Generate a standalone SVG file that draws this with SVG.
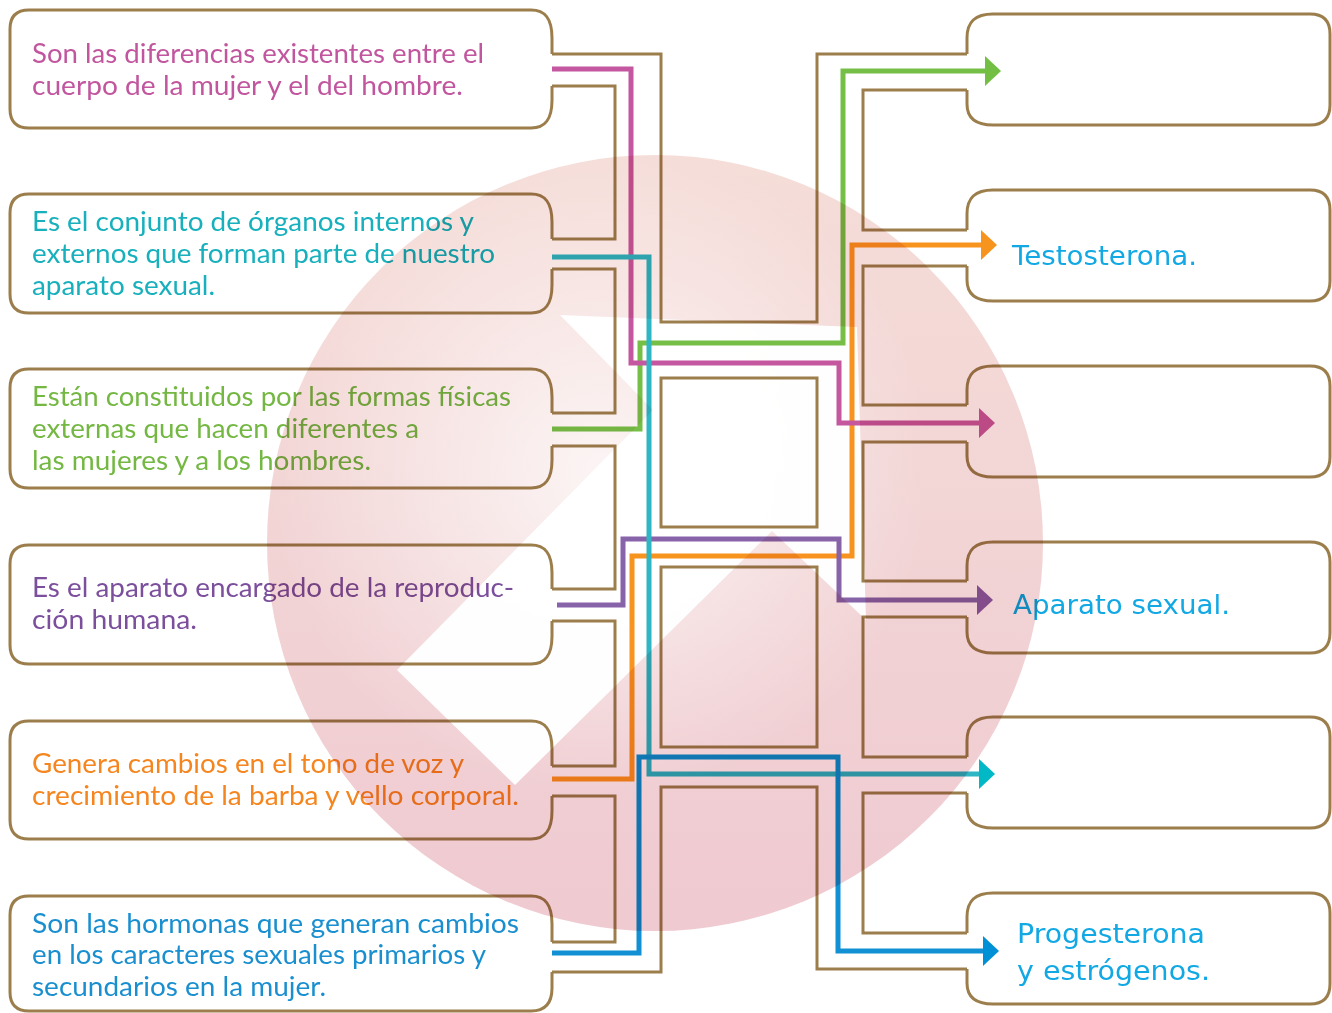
<svg xmlns="http://www.w3.org/2000/svg" width="1332" height="1013" viewBox="0 0 1332 1013">
<defs>
<style>
.box{fill:none;stroke:#9b7e4c;stroke-width:3;stroke-linejoin:round}
.chan{fill:none;stroke:#9b7e4c;stroke-width:3;stroke-linejoin:miter}
.lt{font-family:Lato,"Open Sans","Noto Sans",sans-serif;font-size:27px}
.rt{font-family:"DejaVu Sans","Noto Sans",sans-serif;font-size:26px;fill:#12a8e4}
.ln{fill:none;stroke-width:5;stroke-linejoin:miter}
.fg{mix-blend-mode:multiply}
</style>
<linearGradient id="pinkLin" gradientUnits="userSpaceOnUse" x1="655" y1="155" x2="655" y2="931">
<stop offset="0" stop-color="#f5ddd8"/>
<stop offset="0.5" stop-color="#f2d4d5"/>
<stop offset="1" stop-color="#efcad1"/>
</linearGradient>
<radialGradient id="pinkGlow" gradientUnits="userSpaceOnUse" cx="600" cy="470" r="330">
<stop offset="0" stop-color="#ffffff" stop-opacity="0.75"/>
<stop offset="0.6" stop-color="#ffffff" stop-opacity="0.3"/>
<stop offset="1" stop-color="#ffffff" stop-opacity="0"/>
</radialGradient>
<marker id="ahMag" viewBox="0 0 16 30" refX="0" refY="15" markerWidth="16" markerHeight="30" markerUnits="userSpaceOnUse" orient="auto"><path d="M0,0 L16,15 L0,30 Z" fill="#c4579f"/></marker>
<marker id="ahTeal" viewBox="0 0 16 30" refX="0" refY="15" markerWidth="16" markerHeight="30" markerUnits="userSpaceOnUse" orient="auto"><path d="M0,0 L16,15 L0,30 Z" fill="#00b8c6"/></marker>
<marker id="ahGreen" viewBox="0 0 16 30" refX="0" refY="15" markerWidth="16" markerHeight="30" markerUnits="userSpaceOnUse" orient="auto"><path d="M0,0 L16,15 L0,30 Z" fill="#72bf44"/></marker>
<marker id="ahPurple" viewBox="0 0 16 30" refX="0" refY="15" markerWidth="16" markerHeight="30" markerUnits="userSpaceOnUse" orient="auto"><path d="M0,0 L16,15 L0,30 Z" fill="#8a5ba6"/></marker>
<marker id="ahOrange" viewBox="0 0 16 30" refX="0" refY="15" markerWidth="16" markerHeight="30" markerUnits="userSpaceOnUse" orient="auto"><path d="M0,0 L16,15 L0,30 Z" fill="#f7941e"/></marker>
<marker id="ahBlue" viewBox="0 0 16 30" refX="0" refY="15" markerWidth="16" markerHeight="30" markerUnits="userSpaceOnUse" orient="auto"><path d="M0,0 L16,15 L0,30 Z" fill="#0090d6"/></marker>
</defs>

<rect x="0" y="0" width="1332" height="1013" fill="#ffffff"/>

<g id="background">
<circle cx="655" cy="543" r="388" fill="url(#pinkLin)"/>
<circle cx="655" cy="543" r="388" fill="url(#pinkGlow)"/>
<polygon points="560,315 857,327 866,620 772,531 515,785 397,670 653,410" fill="#ffffff" opacity="0.97"/>
</g>

<g class="fg">
<g id="channels">
<path class="chan" d="M552,54 H661 V322 H817 V54 H967"/>
<path class="chan" d="M552,86 H615 V239 H552"/>
<path class="chan" d="M552,269 H615 V413 H552"/>
<path class="chan" d="M552,446 H615 V589 H552"/>
<path class="chan" d="M552,621 H615 V766 H552"/>
<path class="chan" d="M552,796 H615 V942 H552"/>
<path class="chan" d="M552,972 H661 V787 H817 V969 H967"/>
<rect class="chan" x="661" y="378" width="156" height="149"/>
<rect class="chan" x="661" y="567" width="156" height="180"/>
<path class="chan" d="M967,90 H863 V230 H967"/>
<path class="chan" d="M967,266 H863 V405 H967"/>
<path class="chan" d="M967,442 H863 V581 H967"/>
<path class="chan" d="M967,617 H863 V757 H967"/>
<path class="chan" d="M967,793 H863 V933 H967"/>
</g>

<g id="left1">
<path class="box" d="M552,54 V38 C552,18 545,10 531,10 H29 Q10,10 10,29 V109 Q10,128 29,128 H531 C545,128 552,120 552,100 V86"/>
<text class="lt" fill="#c1559e"><tspan x="32" y="63" textLength="452" lengthAdjust="spacingAndGlyphs">Son las diferencias existentes entre el</tspan><tspan x="32" y="95" textLength="431" lengthAdjust="spacingAndGlyphs">cuerpo de la mujer y el del hombre.</tspan></text>
</g>
<g id="left2">
<path class="box" d="M552,239 V222 C552,202 545,194 531,194 H29 Q10,194 10,213 V294 Q10,313 29,313 H531 C545,313 552,305 552,285 V269"/>
<text class="lt" fill="#17b0bc"><tspan x="32" y="231" textLength="442" lengthAdjust="spacingAndGlyphs">Es el conjunto de órganos internos y</tspan><tspan x="32" y="263" textLength="463" lengthAdjust="spacingAndGlyphs">externos que forman parte de nuestro</tspan><tspan x="32" y="295" textLength="183" lengthAdjust="spacingAndGlyphs">aparato sexual.</tspan></text>
</g>
<g id="left3">
<path class="box" d="M552,413 V397 C552,377 545,369 531,369 H29 Q10,369 10,388 V469 Q10,488 29,488 H531 C545,488 552,480 552,460 V446"/>
<text class="lt" fill="#74b843"><tspan x="32" y="406" textLength="479" lengthAdjust="spacingAndGlyphs">Están constituidos por las formas físicas</tspan><tspan x="32" y="438" textLength="387" lengthAdjust="spacingAndGlyphs">externas que hacen diferentes a</tspan><tspan x="32" y="470" textLength="339" lengthAdjust="spacingAndGlyphs">las mujeres y a los hombres.</tspan></text>
</g>
<g id="left4">
<path class="box" d="M552,589 V573 C552,553 545,545 531,545 H29 Q10,545 10,564 V645 Q10,664 29,664 H531 C545,664 552,656 552,636 V621"/>
<text class="lt" fill="#7c4f9d"><tspan x="32" y="597" textLength="482" lengthAdjust="spacingAndGlyphs">Es el aparato encargado de la reproduc-</tspan><tspan x="32" y="629" textLength="165" lengthAdjust="spacingAndGlyphs">ción humana.</tspan></text>
</g>
<g id="left5">
<path class="box" d="M552,766 V749 C552,729 545,721 531,721 H29 Q10,721 10,740 V820 Q10,839 29,839 H531 C545,839 552,831 552,811 V796"/>
<text class="lt" fill="#f5861f"><tspan x="32" y="773" textLength="432" lengthAdjust="spacingAndGlyphs">Genera cambios en el tono de voz y</tspan><tspan x="32" y="805" textLength="487" lengthAdjust="spacingAndGlyphs">crecimiento de la barba y vello corporal.</tspan></text>
</g>
<g id="left6">
<path class="box" d="M552,942 V924 C552,904 545,896 531,896 H29 Q10,896 10,915 V992 Q10,1011 29,1011 H531 C545,1011 552,1003 552,988 V972"/>
<text class="lt" fill="#1a8fd0"><tspan x="32" y="933" textLength="487" lengthAdjust="spacingAndGlyphs">Son las hormonas que generan cambios</tspan><tspan x="32" y="964" textLength="454" lengthAdjust="spacingAndGlyphs">en los caracteres sexuales primarios y</tspan><tspan x="32" y="996" textLength="294" lengthAdjust="spacingAndGlyphs">secundarios en la mujer.</tspan></text>
</g>

<g id="right1">
<path class="box" d="M967,54 V38 C967,22 975,14 993,14 H1310 Q1330,14 1330,34 V105 Q1330,125 1310,125 H993 C975,125 967,117 967,104 V90"/>
</g>
<g id="right2">
<path class="box" d="M967,230 V214 C967,198 975,190 993,190 H1310 Q1330,190 1330,210 V281 Q1330,301 1310,301 H993 C975,301 967,293 967,280 V266"/>
<text class="rt" x="1012" y="265" textLength="185" lengthAdjust="spacingAndGlyphs">Testosterona.</text>
</g>
<g id="right3">
<path class="box" d="M967,405 V390 C967,374 975,366 993,366 H1310 Q1330,366 1330,386 V457 Q1330,477 1310,477 H993 C975,477 967,469 967,456 V442"/>
</g>
<g id="right4">
<path class="box" d="M967,581 V566 C967,550 975,542 993,542 H1310 Q1330,542 1330,562 V633 Q1330,653 1310,653 H993 C975,653 967,645 967,632 V617"/>
<text class="rt" x="1013" y="614" textLength="217" lengthAdjust="spacingAndGlyphs">Aparato sexual.</text>
</g>
<g id="right5">
<path class="box" d="M967,757 V741 C967,725 975,717 993,717 H1310 Q1330,717 1330,737 V808 Q1330,828 1310,828 H993 C975,828 967,820 967,807 V793"/>
</g>
<g id="right6">
<path class="box" d="M967,933 V917 C967,901 975,893 993,893 H1310 Q1330,893 1330,913 V984 Q1330,1004 1310,1004 H993 C975,1004 967,996 967,983 V969"/>
<text class="rt"><tspan x="1017" y="943" textLength="188" lengthAdjust="spacingAndGlyphs">Progesterona</tspan><tspan x="1017" y="980" textLength="193" lengthAdjust="spacingAndGlyphs">y estrógenos.</tspan></text>
</g>

<g id="connectors">
<path class="ln" stroke="#f7941e" marker-end="url(#ahOrange)" d="M552,779 H632 V556 H852 V245 H981"/>
<path class="ln" stroke="#76bf46" marker-end="url(#ahGreen)" d="M552,429 H640 V343 H843 V71 H985"/>
<path class="ln" stroke="#8763a9" marker-end="url(#ahPurple)" d="M557,605 H623 V539 H839 V600 H977"/>
<path class="ln" stroke="#c4579f" marker-end="url(#ahMag)" d="M552,69 H631 V363 H839 V423 H979"/>
<path class="ln" stroke="#2fb6c4" marker-end="url(#ahTeal)" d="M552,257 H649 V774 H979"/>
<path class="ln" stroke="#1190d4" marker-end="url(#ahBlue)" d="M552,953 H639 V757 H838 V951 H983"/>
</g>
</g>
</svg>
